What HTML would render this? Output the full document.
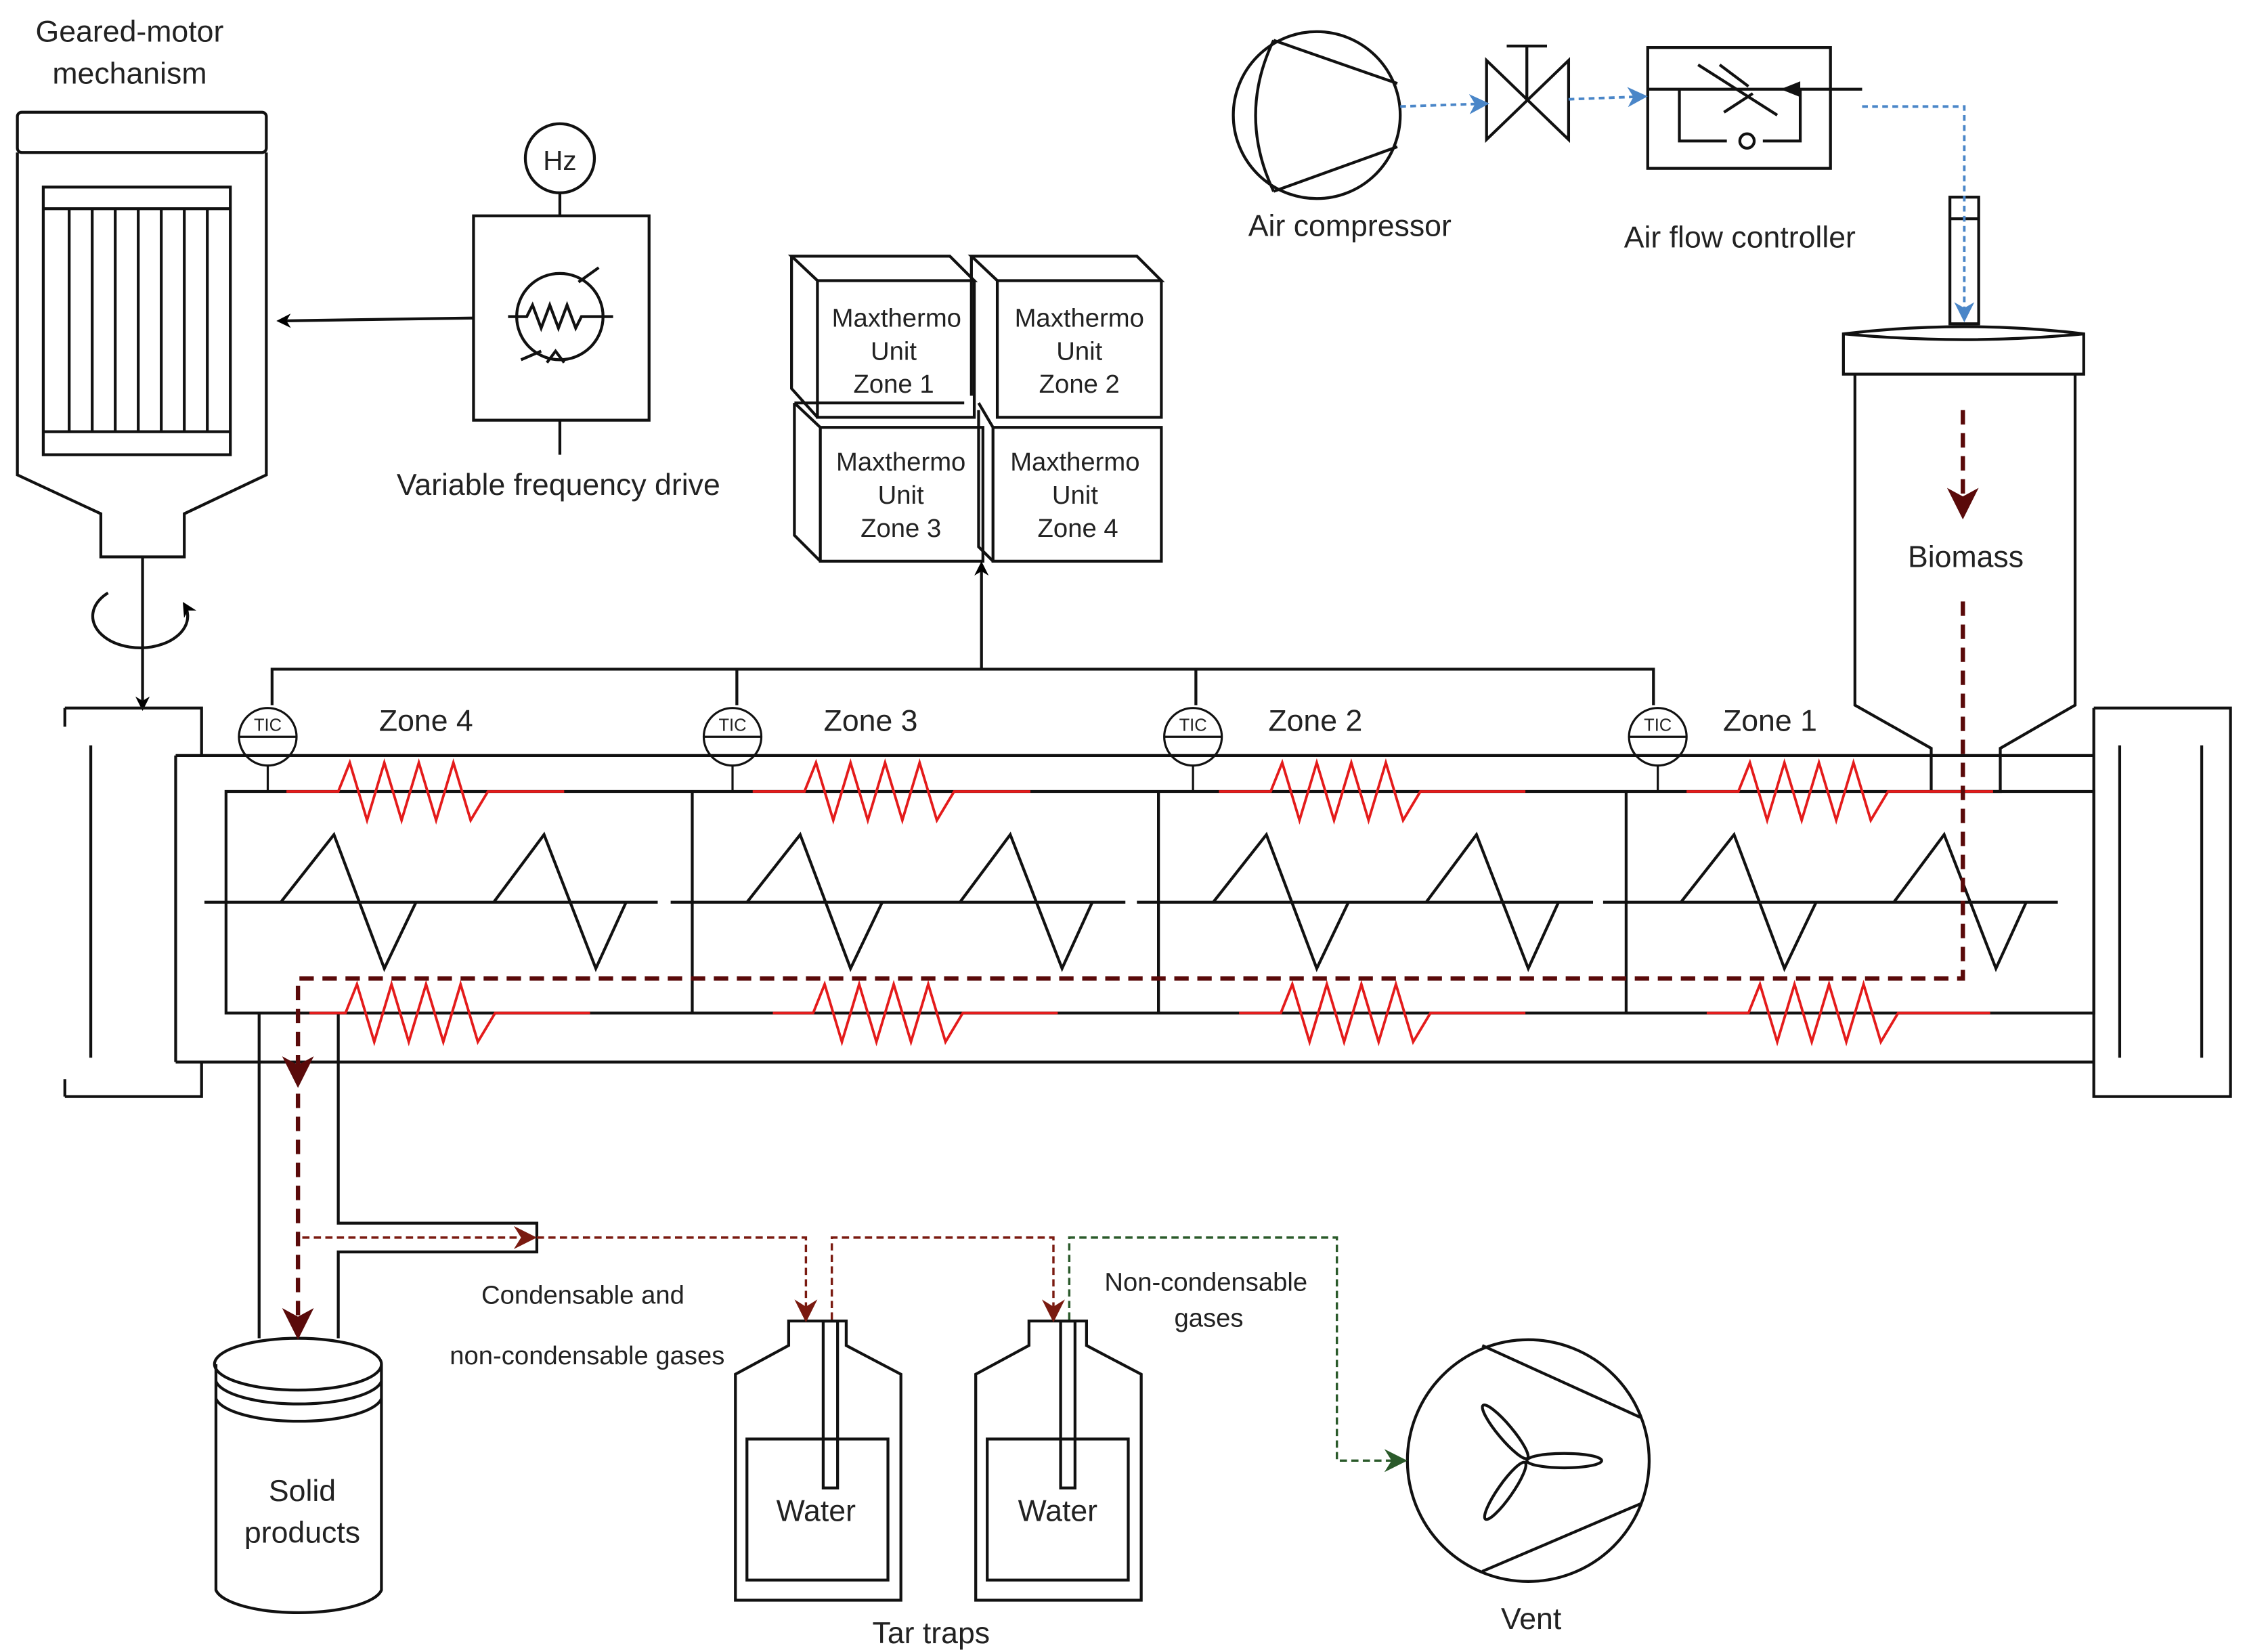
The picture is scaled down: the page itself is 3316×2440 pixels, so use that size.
<!DOCTYPE html>
<html><head><meta charset="utf-8"><style>
html,body{margin:0;padding:0;background:#fff}
svg{display:block}
text{font-family:"Liberation Sans",sans-serif;fill:#222}
</style></head><body>
<svg width="3316" height="2440" viewBox="0 0 1560 1148" xmlns="http://www.w3.org/2000/svg">
<defs>
<marker id="ak" markerWidth="10" markerHeight="10" refX="8" refY="5" orient="auto" markerUnits="userSpaceOnUse"><path d="M0,0 L10,5 L0,10 L3,5z" fill="#000"/></marker>
<marker id="ab" markerWidth="14" markerHeight="14" refX="12" refY="7" orient="auto" markerUnits="userSpaceOnUse"><path d="M0,0 L14,7 L0,14 L4,7z" fill="#4a86c8"/></marker>
<marker id="ar" markerWidth="22" markerHeight="22" refX="18" refY="11" orient="auto" markerUnits="userSpaceOnUse"><path d="M0,0 L22,11 L0,22 L6,11z" fill="#5a0a0a"/></marker>
<marker id="ar2" markerWidth="16" markerHeight="16" refX="14" refY="8" orient="auto" markerUnits="userSpaceOnUse"><path d="M0,0 L16,8 L0,16 L5,8z" fill="#7a1a10"/></marker>
<marker id="ag" markerWidth="16" markerHeight="16" refX="14" refY="8" orient="auto" markerUnits="userSpaceOnUse"><path d="M0,0 L16,8 L0,16 L5,8z" fill="#2a5a2a"/></marker>
</defs>
<g fill="none" stroke="#111" stroke-width="2">
<!-- geared motor -->
<rect x="12" y="78" width="173" height="28" rx="3"/>
<path d="M12,106 V330 L70,357 V387 H128 V357 L185,330 V106"/>
<rect x="30" y="130" width="130" height="186"/>
<line x1="30" y1="145" x2="160" y2="145"/><line x1="30" y1="300" x2="160" y2="300"/>
<path d="M48,145V300 M64,145V300 M80,145V300 M96,145V300 M112,145V300 M128,145V300 M144,145V300"/>
<line x1="99" y1="387" x2="99" y2="492" marker-end="url(#ak)"/>
<path d="M75,412 A33,22 0 1 0 128,420" marker-end="url(#ak)"/>
<!-- VFD -->
<circle cx="389" cy="110" r="24"/>
<rect x="329" y="150" width="122" height="142"/>
<line x1="389" y1="134" x2="389" y2="150"/><line x1="389" y1="292" x2="389" y2="316"/>
<line x1="329" y1="221" x2="194" y2="223" marker-end="url(#ak)"/>
<circle cx="389" cy="220" r="30"/>
<path d="M353,220 H366 l4,-8 6,16 6,-16 6,16 6,-16 6,16 4,-8 H426 M402,196 L416,186 M376,244 L362,250 M380,252 L386,244 392,252"/>
<!-- Maxthermo boxes -->
<path d="M550,178 H660 L677,195 H568 Z M550,178 V270 L568,290 M677,195V290H568V195"/>
<path d="M675,178 H790 L807,195 H693 Z M675,178 V275 M693,195V290H807V195"/>
<path d="M552,280 L570,297 H683 V390 H570 V297 M552,280 V372 L570,390 M552,280 H670"/>
<path d="M680,280 L690,297 H807 V390 H690 V297 M680,285 V380 L690,390"/>
<!-- bus -->
<path d="M189,490 V465 H1149 V490 M512,490 V465 M831,490 V465"/>
<line x1="682" y1="465" x2="682" y2="392" marker-end="url(#ak)"/>
<!-- tube and end caps -->
<path d="M122,525 H1455 M122,738 H1455 M122,525 V738"/>
<path d="M45,492 H140 V525 M45,492 V505 M45,762 H140 V738 M45,762 V750 M63,518 V735"/>
<path d="M1455,492 H1550 V762 H1455 V492 M1473,518 V735 M1530,518 V735"/>
<rect x="157" y="550" width="1298" height="154"/>
<path d="M481,550V704 M805,550V704 M1130,550V704"/>
<path d="M142,627H457 M466,627H782 M790,627H1107 M1114,627H1430"/>
<path d="M195,627 232,580 267,673 289,627 M343,627 378,580 414,673 435,627"/>
<path d="M519,627 556,580 591,673 613,627 M667,627 702,580 738,673 759,627"/>
<path d="M843,627 880,580 915,673 937,627 M991,627 1026,580 1062,673 1083,627"/>
<path d="M1168,627 1205,580 1240,673 1262,627 M1316,627 1351,580 1387,673 1408,627"/>
<!-- TIC -->
<g stroke-width="1.5">
<circle cx="186" cy="512" r="20"/><circle cx="509" cy="512" r="20"/><circle cx="829" cy="512" r="20"/><circle cx="1152" cy="512" r="20"/>
<path d="M166,512H206 M489,512H529 M809,512H849 M1132,512H1172 M186,532V550 M509,532V550 M829,532V550 M1152,532V550"/>
</g>
<!-- hopper -->
<rect x="1355" y="137" width="20" height="88"/><line x1="1355" y1="152" x2="1375" y2="152"/>
<path d="M1281,232 Q1365,222 1448,232 V260 H1281 Z M1281,232 Q1365,240 1448,232"/>
<path d="M1289,260 V490 L1342,520 V550 H1390 V520 L1442,490 V260"/>
<!-- outlet -->
<path d="M180,704 V930 M235,704 V850 H373 V870 H235 V930"/>
<!-- solid products -->
<path d="M150,948 V1105 A58,18 0 0 0 265,1105 V948"/>
<ellipse cx="207" cy="948" rx="58" ry="18"/>
<path d="M150,960 A58,18 0 0 0 265,960 M150,972 A58,18 0 0 0 265,972"/>
<!-- tar traps -->
<path d="M548,918 H588 V935 L626,955 V1112 H511 V955 L548,935 Z"/>
<rect x="519" y="1000" width="98" height="98"/><rect x="572" y="918" width="10" height="116"/>
<path d="M715,918 H755 V935 L793,955 V1112 H678 V955 L715,935 Z"/>
<rect x="686" y="1000" width="98" height="98"/><rect x="737" y="918" width="10" height="116"/>
<!-- compressor -->
<circle cx="915" cy="80" r="58"/>
<path d="M885,28 L971,58 M885,133 L971,102 M885,28 Q860,80 885,133"/>
<!-- valve -->
<path d="M1033,42 L1090,97 V42 L1033,97 Z M1061,70 V32 M1047,32 H1075"/>
<!-- flow controller -->
<rect x="1145" y="33" width="127" height="84"/>
<path d="M1145,62 H1294 M1167,62 V98 H1200 M1225,98 H1251 V62 M1180,45 L1235,80 M1195,45 L1215,60 M1198,78 L1218,65"/>
<circle cx="1214" cy="98" r="5"/>
<path d="M1240,62 L1250,58 V66 Z" fill="#111"/>
<!-- vent -->
<circle cx="1062" cy="1015" r="84"/>
<path d="M1030,935 L1140,985 M1030,1092 L1140,1045"/>
<ellipse cx="1087" cy="1015" rx="26" ry="5"/>
<ellipse cx="1046" cy="995" rx="24" ry="5" transform="rotate(50 1046 995)"/>
<ellipse cx="1046" cy="1036" rx="24" ry="5" transform="rotate(-55 1046 1036)"/>
</g>
<!-- heaters -->
<g fill="none" stroke="#e41b1b" stroke-width="1.8">
<path d="M199,550 H235 l8,-20 12,40 12,-40 12,40 12,-40 12,40 12,-40 12,40 12,-20 H392"/>
<path d="M523,550 H559 l8,-20 12,40 12,-40 12,40 12,-40 12,40 12,-40 12,40 12,-20 H716"/>
<path d="M847,550 H883 l8,-20 12,40 12,-40 12,40 12,-40 12,40 12,-40 12,40 12,-20 H1060"/>
<path d="M1172,550 H1208 l8,-20 12,40 12,-40 12,40 12,-40 12,40 12,-40 12,40 12,-20 H1385"/>
<path d="M215,704 H240 l8,-20 12,40 12,-40 12,40 12,-40 12,40 12,-40 12,40 12,-20 H410"/>
<path d="M537,704 H565 l8,-20 12,40 12,-40 12,40 12,-40 12,40 12,-40 12,40 12,-20 H735"/>
<path d="M861,704 H890 l8,-20 12,40 12,-40 12,40 12,-40 12,40 12,-40 12,40 12,-20 H1060"/>
<path d="M1186,704 H1215 l8,-20 12,40 12,-40 12,40 12,-40 12,40 12,-40 12,40 12,-20 H1383"/>
</g>
<!-- blue flows -->
<g fill="none" stroke="#4a86c8" stroke-width="1.8" stroke-dasharray="4,3">
<line x1="973" y1="74" x2="1033" y2="72" marker-end="url(#ab)"/>
<line x1="1090" y1="69" x2="1143" y2="67" marker-end="url(#ab)"/>
<path d="M1294,74 H1365 V222" marker-end="url(#ab)"/>
</g>
<!-- biomass path -->
<g fill="none" stroke="#5a0a0a" stroke-width="3" stroke-dasharray="10,6">
<line x1="1364" y1="285" x2="1364" y2="357" marker-end="url(#ar)"/>
<path d="M1364,418 V680 H207 V752" marker-end="url(#ar)"/>
<line x1="207" y1="760" x2="207" y2="927" marker-end="url(#ar)"/>
</g>
<g fill="none" stroke="#7a1a10" stroke-width="1.6" stroke-dasharray="5,3">
<line x1="210" y1="860" x2="371" y2="860" marker-end="url(#ar2)"/>
<path d="M373,860 H560 V917" marker-end="url(#ar2)"/>
<path d="M578,917 V860 H732 V917" marker-end="url(#ar2)"/>
</g>
<path d="M743,917 V860 H929 V1015 H976" fill="none" stroke="#2a5a2a" stroke-width="1.6" stroke-dasharray="5,3" marker-end="url(#ag)"/>
<!-- text -->
<g font-size="21" text-anchor="middle">
<text x="90" y="29">Geared-motor</text><text x="90" y="58">mechanism</text>
<text x="389" y="118" font-size="19">Hz</text>
<text x="388" y="344">Variable frequency drive</text>
<text x="938" y="164">Air compressor</text>
<text x="1209" y="172">Air flow controller</text>
<text x="1366" y="394">Biomass</text>
<text x="296" y="508">Zone 4</text><text x="605" y="508">Zone 3</text><text x="914" y="508">Zone 2</text><text x="1230" y="508">Zone 1</text>
<text x="210" y="1043">Solid</text><text x="210" y="1072">products</text>
<text x="567" y="1057">Water</text><text x="735" y="1057">Water</text>
<text x="647" y="1142">Tar traps</text>
<text x="1064" y="1132">Vent</text>
</g>
<g font-size="18" text-anchor="middle">
<text x="623" y="227">Maxthermo</text><text x="621" y="250">Unit</text><text x="621" y="273">Zone 1</text>
<text x="750" y="227">Maxthermo</text><text x="750" y="250">Unit</text><text x="750" y="273">Zone 2</text>
<text x="626" y="327">Maxthermo</text><text x="626" y="350">Unit</text><text x="626" y="373">Zone 3</text>
<text x="747" y="327">Maxthermo</text><text x="747" y="350">Unit</text><text x="749" y="373">Zone 4</text>
<text x="405" y="906">Condensable and</text>
<text x="408" y="948">non-condensable gases</text>
<text x="838" y="897">Non-condensable</text><text x="840" y="922">gases</text>
</g>
<g font-size="12" text-anchor="middle">
<text x="186" y="508">TIC</text><text x="509" y="508">TIC</text><text x="829" y="508">TIC</text><text x="1152" y="508">TIC</text>
</g>
</svg>
</body></html>
